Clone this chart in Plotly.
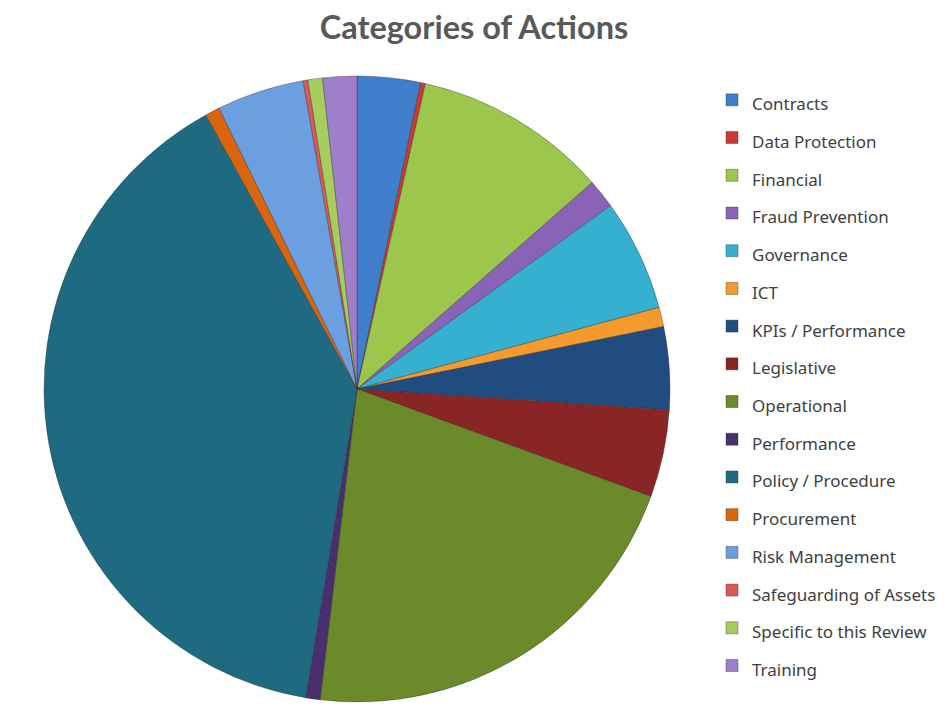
import plotly.graph_objects as go

categories = [
    "Contracts", "Data Protection", "Financial", "Fraud Prevention", "Governance",
    "ICT", "KPIs / Performance", "Legislative", "Operational", "Performance",
    "Policy / Procedure", "Procurement", "Risk Management", "Safeguarding of Assets",
    "Specific to this Review", "Training",
]
counts = [13, 1, 40, 6, 23, 4, 17, 18, 85, 3, 157, 3, 18, 1, 3, 7]
colors = [
    "#3F7FCC", "#C83A36", "#9CC64C", "#8A63B8", "#36B0D0",
    "#F59A2C", "#214C80", "#8A2525", "#6B8A2A", "#4A2F6E",
    "#1E6A80", "#D9660F", "#6B9FDF", "#D95A57", "#A8CD5F", "#9F7FC9",
]

W, H = 946, 724
cx, cy, r = 349, 381, 313

labels = [f"<span style='font-size:17px'>{c}</span>" for c in categories]

fig = go.Figure(go.Pie(
    labels=labels,
    values=counts,
    sort=False,
    direction="clockwise",
    rotation=0,
    textinfo="none",
    hoverinfo="label+value+percent",
    marker=dict(colors=colors, line=dict(color="rgba(40,40,40,0.45)", width=0.8)),
    domain=dict(x=[(cx - r) / W, (cx + r) / W], y=[(H - cy - r) / H, (H - cy + r) / H]),
))

fig.update_layout(
    width=W, height=H,
    margin=dict(l=0, r=0, t=0, b=0),
    paper_bgcolor="white",
    plot_bgcolor="white",
    title=dict(
        text="<b>Categories of Actions</b>",
        x=466 / W, xanchor="center",
        y=1 - 20 / H, yanchor="middle",
        font=dict(family="Lato", size=32.5, color="#595959"),
    ),
    legend=dict(
        x=704 / W, xanchor="left",
        y=1 - 68 / H, yanchor="top",
        font=dict(family="Noto Sans", size=26.7, color="#404040"),
        itemclick=False,
        bgcolor="rgba(0,0,0,0)",
    ),
    showlegend=True,
)

fig.write_html("out.html")
